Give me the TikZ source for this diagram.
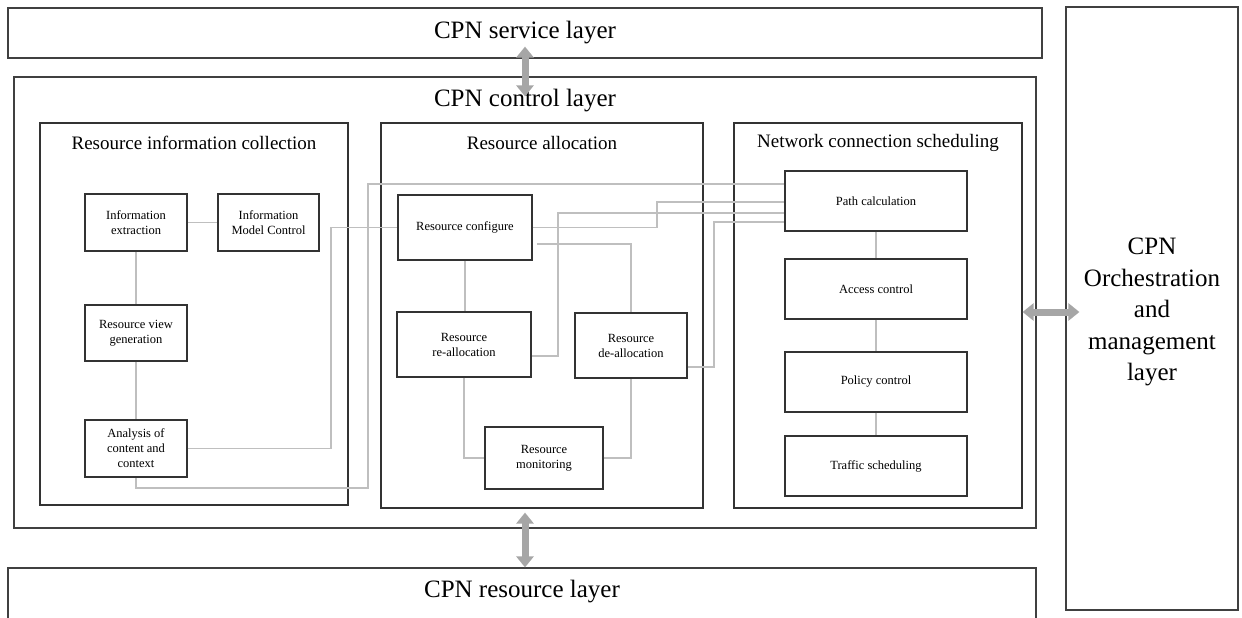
\documentclass[tikz,border=0pt]{standalone}
\usepackage{fontspec}
\setmainfont{Liberation Serif}
\usetikzlibrary{arrows.meta}
\usetikzlibrary{calc}

\begin{document}
\begin{tikzpicture}[x=1pt,y=-1pt,
  layer/.style={draw=black!75, line width=1.2pt, inner sep=0pt},
  section/.style={draw=black!80, line width=1.2pt, inner sep=0pt},
  block/.style={draw=black!80, line width=1.6pt, fill=white, inner sep=0pt, align=center, font=\fontsize{12.5}{15}\selectfont},
  wire/.style={draw=black!25, line width=1.8pt},
  bigarrow/.style={draw=black!35, line width=7pt, {Triangle[length=11pt,width=17pt]}-{Triangle[length=11pt,width=17pt]}},
  laytext/.style={font=\fontsize{25}{31.5}\selectfont, align=center},
  secttext/.style={font=\fontsize{19}{23}\selectfont}]
\useasboundingbox (0,0) rectangle (1242,618);
% the layers
\node[layer, laytext, minimum width=1034pt, minimum height=50pt] (svc) at (525,33) {CPN service layer};
\node[layer, minimum width=1022pt, minimum height=451pt] (ctrl) at (525,302.5) {};
\node[laytext] (ctrltitle) at (525,101) {CPN control layer};
\node[layer, minimum width=172pt, minimum height=603pt] (orch) at (1152,308.5) {};
\node[laytext] (orchtitle) at (1152,312) {CPN\\Orchestration\\and\\management\\layer};
\node[layer, minimum width=1028pt, minimum height=72pt] (res) at (522,604) {};
\node[laytext] (restitle) at (522,592) {CPN resource layer};
% the three parts of the control layer
\node[section, minimum width=308pt, minimum height=382pt] (ric) at (194,314) {};
\node[secttext] (rictitle) at (194,143) {Resource information collection};
\node[section, minimum width=322pt, minimum height=385pt] (ra) at (542,315.5) {};
\node[secttext] (ratitle) at (542,143) {Resource allocation};
\node[section, minimum width=288pt, minimum height=385pt] (ncs) at (878,315.5) {};
\node[secttext] (ncstitle) at (878,143) {Network connection scheduling};
%     collection blocks
\node[block, minimum width=102pt, minimum height=57pt] (ie) at (136,222.5) {Information\\extraction};
\node[block, minimum width=101pt, minimum height=57pt] (imc) at (268.5,222.5) {Information\\Model Control};
\node[block, minimum width=102pt, minimum height=56pt] (rvg) at (136,333) {Resource view\\generation};
\node[block, minimum width=102pt, minimum height=57pt] (aoc) at (136,448.5) {Analysis of\\content and\\context};
%     allocation blocks
\node[block, minimum width=134pt, minimum height=65pt] (rc) at (465,227.5) {Resource configure};
\node[block, minimum width=134pt, minimum height=65pt] (rra) at (464,344.5) {Resource\\re-allocation};
\node[block, minimum width=112pt, minimum height=65pt] (rda) at (631,345.5) {Resource\\de-allocation};
\node[block, minimum width=118pt, minimum height=62pt] (rmon) at (544,458) {Resource\\monitoring};
%     scheduling blocks
\node[block, minimum width=182pt, minimum height=60pt] (pc) at (876,201) {Path calculation};
\node[block, minimum width=182pt, minimum height=60pt] (ac) at (876,289) {Access control};
\node[block, minimum width=182pt, minimum height=60pt] (pol) at (876,382) {Policy control};
\node[block, minimum width=182pt, minimum height=60pt] (ts) at (876,466) {Traffic scheduling};
% grey links
\draw[wire] (ie) -- (imc);
\draw[wire] (ie) -- (rvg);
\draw[wire] (rvg) -- (aoc);
\draw[wire] (aoc.east) -| ([xshift=-66pt]rc.west) -- (rc.west);
\draw[wire] ([yshift=17pt]pc.west) -| ([xshift=232pt,yshift=-10pt]aoc.south) -| (aoc.south);
\draw[wire] (rc.east) -| ([xshift=-127pt,yshift=-1pt]pc.west) -- ([yshift=-1pt]pc.west);
\draw[wire] ([yshift=-11.5pt]rra.east) -| ([xshift=-226pt,yshift=-12pt]pc.west) -- ([yshift=-12pt]pc.west);
\draw[wire] ([yshift=-21.5pt]rda.east) -| ([xshift=-70pt,yshift=-21pt]pc.west) -- ([yshift=-21pt]pc.west);
\draw[wire] ([xshift=4pt,yshift=-16.5pt]rc.east) -| (rda.north);
\draw[wire] (rc.south) -- (rc.south |- rra.north);
\draw[wire] (rra.south) |- (rmon.west);
\draw[wire] (rmon.east) -| (rda.south);
\draw[wire] (pc) -- (ac);
\draw[wire] (ac) -- (pol);
\draw[wire] (pol) -- (ts);
% thick arrows between layers
\draw[bigarrow] ([yshift=12pt]svc.south) -- ([yshift=-20pt]ctrl.north);
\draw[bigarrow] ([yshift=16pt]ctrl.south) -- (ctrl.south |- res.north);
\draw[bigarrow] ([yshift=3.5pt]ncs.east) -- ($(orch.west |- ncs.east)+(14,-3.5)$);
\end{tikzpicture}
\end{document}
